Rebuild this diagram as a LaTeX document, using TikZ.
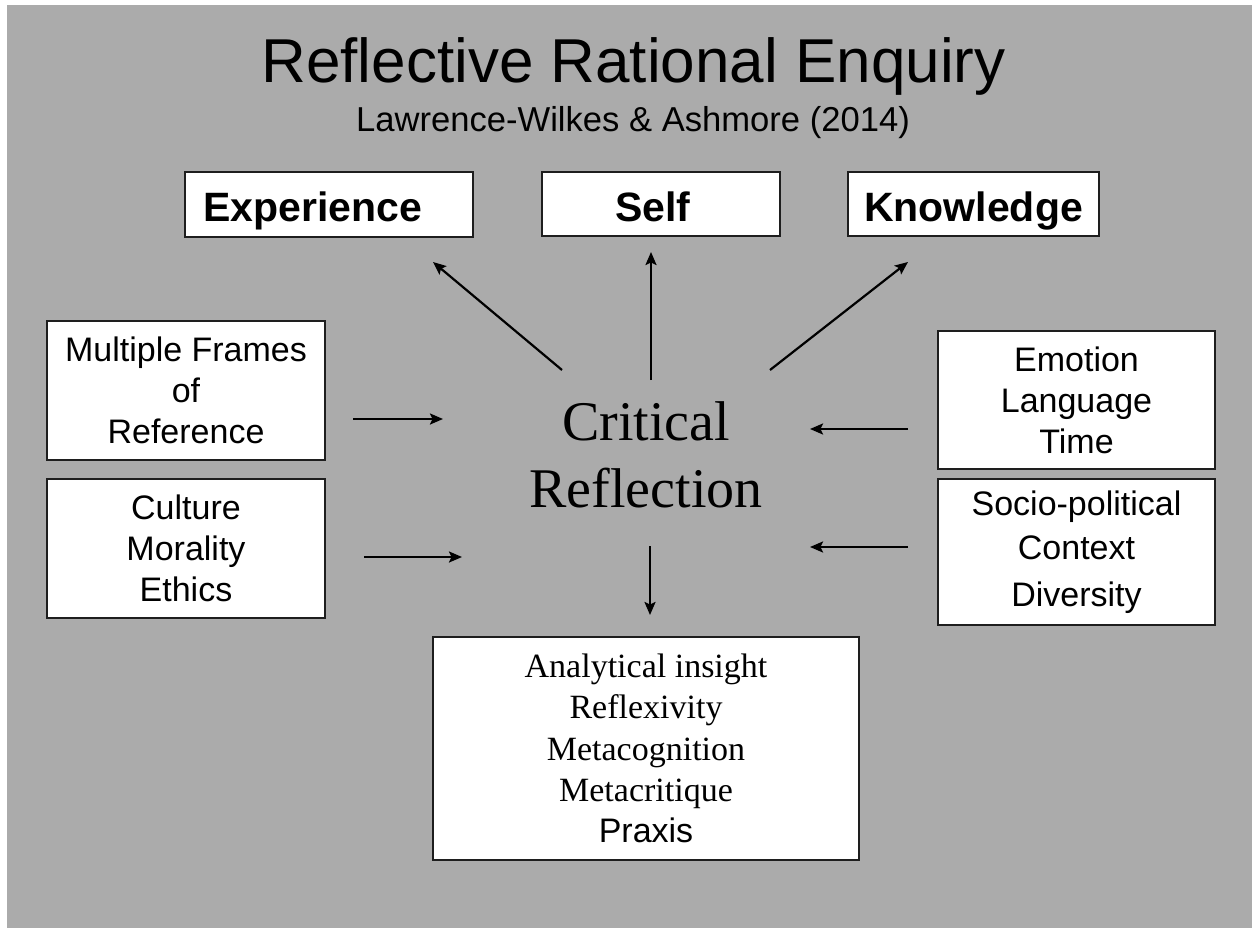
\documentclass[tikz,border=0pt]{standalone}
\usepackage{fontspec}
\setmainfont{Liberation Serif}
\setsansfont{Liberation Sans}
\usetikzlibrary{arrows.meta}
\definecolor{bggray}{RGB}{171,171,171}
\definecolor{edge}{RGB}{30,30,30}
\tikzset{
  box/.style={draw=edge, line width=2pt, fill=white, inner sep=0pt, align=center},
  sanstxt/.style={font=\sffamily\fontsize{34}{41}\selectfont},
  headtxt/.style={font=\sffamily\bfseries\fontsize{41}{48}\selectfont, text height=34pt, text depth=0pt},
  arr/.style={line width=2.2pt, draw=black, -{Stealth[length=13pt,width=11pt,inset=2.5pt]}},
}
\begin{document}
\begin{tikzpicture}[x=1pt,y=-1pt]
\useasboundingbox (0,0) rectangle (1252,928);
\fill[white] (0,0) rectangle (1252,928);
\fill[bggray] (7,5) rectangle (1252,928);

% title
\node[anchor=base, font=\sffamily\fontsize{62}{70}\selectfont, inner sep=0pt] (title) at (633.5,83) {Reflective Rational Enquiry};
\node[anchor=base, font=\sffamily\fontsize{34.6}{40}\selectfont, inner sep=0pt] (sub) at (633,132) {Lawrence-Wilkes \& Ashmore (2014)};

% top boxes
\node[box, headtxt, minimum width=288pt, minimum height=64pt] (exp) at (329,204.5) {\hspace*{-32pt}Experience};
\node[box, headtxt, minimum width=238pt, minimum height=64pt] (self) at (661,204) {\hspace*{-16pt}Self};
\node[box, headtxt, minimum width=251pt, minimum height=64pt] (know) at (973.5,204) {Knowledge};

% side boxes
\node[box, sanstxt, minimum width=278pt, minimum height=139pt] (mfr) at (186,390.5) {Multiple Frames\\of\\Reference};
\node[box, sanstxt, minimum width=278pt, minimum height=139pt] (cul) at (186,548.5) {Culture\\Morality\\Ethics};
\node[box, sanstxt, minimum width=277pt, minimum height=138pt] (emo) at (1076.5,400) {Emotion\\Language\\Time};
\node[box, font=\sffamily\fontsize{34}{44}\selectfont, minimum width=277pt, minimum height=146pt] (soc) at (1076.5,552) {Socio-political\\Context\\[3pt]Diversity};

% outcome box
\node[box, font=\rmfamily\fontsize{34}{41.2}\selectfont, minimum width=426pt, minimum height=223pt] (out) at (646,748.5) {Analytical insight\\Reflexivity\\Metacognition\\Metacritique\\{\sffamily Praxis}};

% centre
\node[font=\rmfamily\fontsize{56}{67}\selectfont, align=center, inner sep=0pt] (crit) at (646,455) {Critical\\Reflection};

% arrow end points
\coordinate (e1) at (562,370); \coordinate (e2) at (433,262);
\coordinate (s1) at (651,380); \coordinate (s2) at (651,252);
\coordinate (k1) at (770,370); \coordinate (k2) at (908,262);
\coordinate (m1) at (353,419); \coordinate (m2) at (443,419);
\coordinate (c1) at (364,557); \coordinate (c2) at (462,557);
\coordinate (t1) at (908,429); \coordinate (t2) at (810,429);
\coordinate (p1) at (908,547); \coordinate (p2) at (810,547);
\coordinate (d1) at (650,546); \coordinate (d2) at (650,615);

\draw[arr] (e1) -- (e2);
\draw[arr] (s1) -- (s2);
\draw[arr] (k1) -- (k2);
\draw[arr] (m1) -- (m2);
\draw[arr] (c1) -- (c2);
\draw[arr] (t1) -- (t2);
\draw[arr] (p1) -- (p2);
\draw[arr] (d1) -- (d2);
\end{tikzpicture}
\end{document}
